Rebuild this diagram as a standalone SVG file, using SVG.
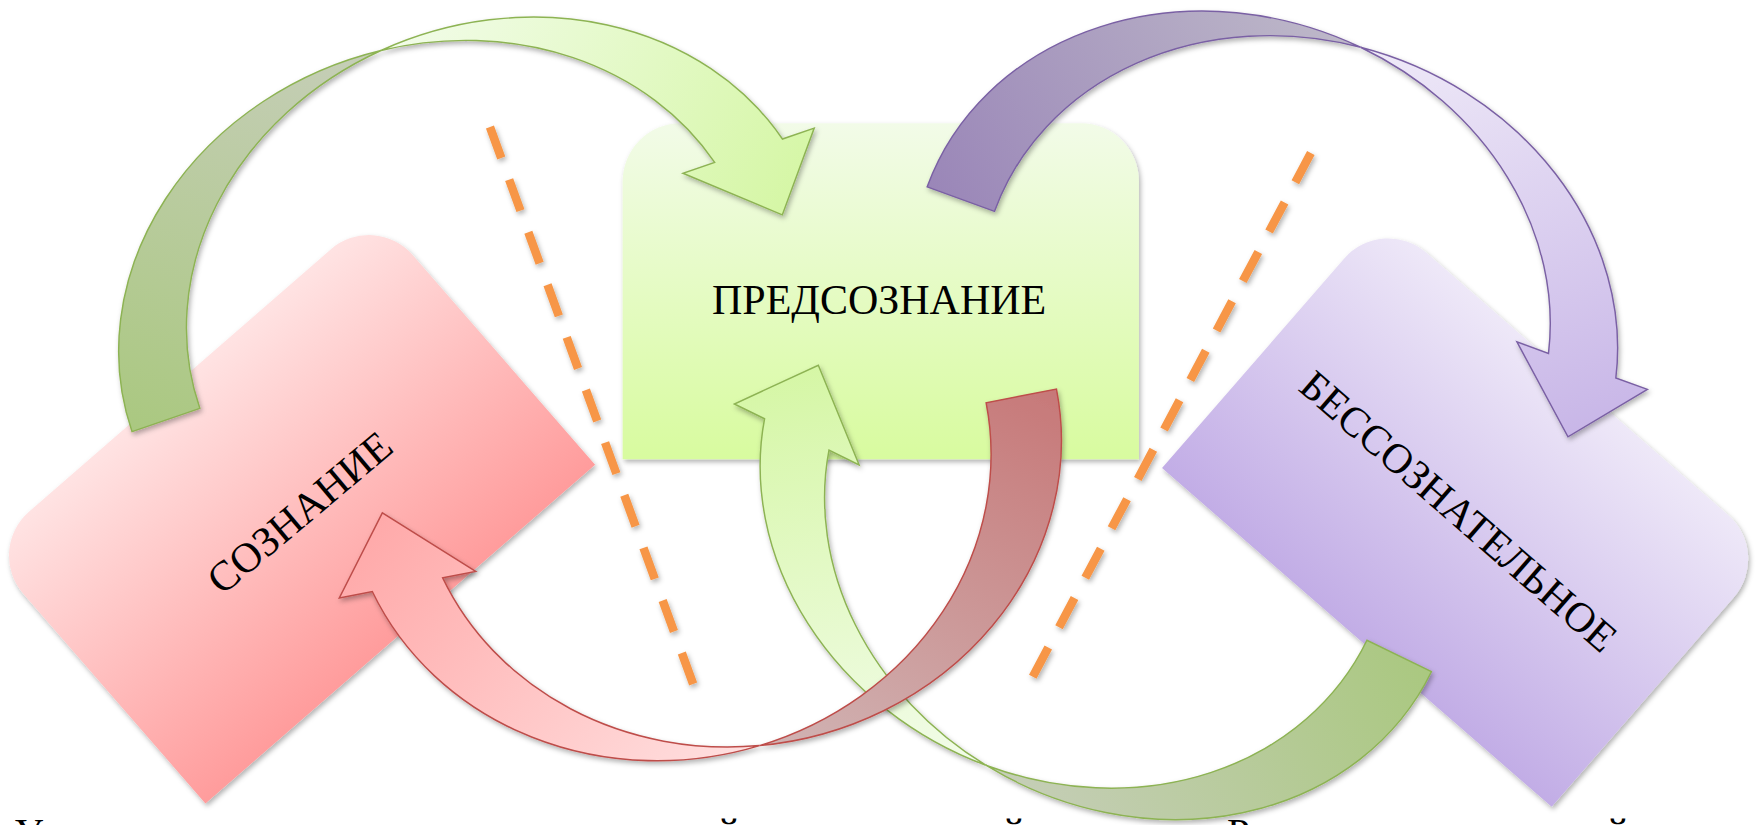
<svg xmlns="http://www.w3.org/2000/svg" width="1756" height="825" viewBox="0 0 1756 825">
<defs>
<style>
.lbl{font-family:"Liberation Serif","Times New Roman",serif;font-size:37.5px;fill:#000}
.cut{font-family:"Liberation Serif","Times New Roman",serif;font-size:41px;fill:#000}
.edge{fill:none;stroke:#f79646;stroke-width:7.6;stroke-dasharray:29.5 20.5}
.sg{stroke:#8db353;stroke-width:1.3}
.sp{stroke:#7a60a4;stroke-width:1.3}
.sr{stroke:#be4d4a;stroke-width:1.3}
</style>
<filter id="sh" x="-10%" y="-10%" width="125%" height="125%">
<feDropShadow dx="1.5" dy="2.5" stdDeviation="2.2" flood-color="#000" flood-opacity="0.3"/>
</filter>
<linearGradient id="nC" x1="0" y1="0" x2="0" y2="1"><stop offset="0" stop-color="#f2fbe8"/><stop offset="1" stop-color="#d8fb9f"/></linearGradient>
<linearGradient id="nR" x1="0" y1="0" x2="0" y2="1"><stop offset="0" stop-color="#ffe3e3"/><stop offset="1" stop-color="#ff9c9c"/></linearGradient>
<linearGradient id="nP" x1="0" y1="0" x2="0" y2="1"><stop offset="0" stop-color="#eee8f8"/><stop offset="1" stop-color="#c2ade6"/></linearGradient>
<linearGradient id="gD" x1="0" y1="1" x2="1" y2="0"><stop offset="0" stop-color="#aac880"/><stop offset="1" stop-color="#c6ceb9"/></linearGradient>
<linearGradient id="gL" x1="0" y1="0" x2="1" y2="1"><stop offset="0" stop-color="#f2fce9"/><stop offset="1" stop-color="#d3f6a0"/></linearGradient>
<linearGradient id="pD" x1="0" y1="1" x2="1" y2="0"><stop offset="0" stop-color="#9a86b8"/><stop offset="1" stop-color="#beb9c9"/></linearGradient>
<linearGradient id="pL" x1="0" y1="0" x2="1" y2="1"><stop offset="0" stop-color="#efeaf8"/><stop offset="1" stop-color="#c5b2e6"/></linearGradient>
<linearGradient id="rD" x1="0" y1="1" x2="1" y2="0"><stop offset="0" stop-color="#c77878"/><stop offset="1" stop-color="#d0b4b4"/></linearGradient>
<linearGradient id="rL" x1="0" y1="0" x2="1" y2="1"><stop offset="0" stop-color="#ffe0e0"/><stop offset="1" stop-color="#ffa5a5"/></linearGradient>
<path id="dk" d="M-289,0 A289,251 0 0 1 32,-249.46 A289,251 0 0 0 -225,0 Z"/>
<path id="lt" d="M32,-249.46 A289,251 0 0 1 345.18,-58 L375.2,-58 L323,6 L251.2,-58 L281.18,-58 A289,251 0 0 0 32,-249.46 Z"/>
<path id="lt2" d="M32,-249.46 A289,251 0 0 1 347.2,-50 L377.2,-50 L325,14 L253.2,-50 L283.2,-50 A289,251 0 0 0 32,-249.46 Z"/>
<path id="box" d="M-230.5,150 V-98 A52,52 0 0 1 -178.5,-150 H178.5 A52,52 0 0 1 230.5,-98 V150 Z"/>
</defs>
<rect width="1756" height="825" fill="#fff"/>
<g transform="scale(1.1199)">
<g id="node-soznanie" filter="url(#sh)">
<use href="#box" transform="translate(259 453) rotate(-41)" fill="url(#nR)"/>
</g>
<text class="lbl" text-anchor="middle" transform="translate(268 458) rotate(-40)" y="12">СОЗНАНИЕ</text>
<g id="node-predsoznanie" filter="url(#sh)">
<use href="#box" transform="translate(786.5 260)" fill="url(#nC)"/>
</g>
<text class="lbl" text-anchor="middle" x="785" y="280">ПРЕДСОЗНАНИЕ</text>
<g id="node-bessoznatelnoe" filter="url(#sh)">
<use href="#box" transform="translate(1310 456) rotate(41)" fill="url(#nP)"/>
</g>
<text class="lbl" text-anchor="middle" transform="translate(1302 457) rotate(41)" y="12">БЕССОЗНАТЕЛЬНОЕ</text>
<g id="connectors">
<g id="dividers" filter="url(#sh)">
<path class="edge" d="M437.5,113.4 L619,611"/>
<path class="edge" d="M1170.5,136.6 L922.2,604.3"/>
</g>
<g id="arrow-soz-pred" filter="url(#sh)">
<g transform="rotate(-19 420 200) translate(363 277)">
<use href="#dk" class="sg" fill="url(#gD)"/>
<use href="#lt" class="sg" fill="url(#gL)"/>
</g>
</g>
<g id="arrow-pred-bess" filter="url(#sh)">
<g transform="rotate(20 1150 200) translate(1125 279)">
<use href="#dk" class="sp" fill="url(#pD)"/>
<use href="#lt2" class="sp" fill="url(#pL)"/>
</g>
</g>
<g id="arrow-bess-pred" filter="url(#sh)">
<g transform="rotate(26 980 500) translate(1002.7 459) rotate(180)">
<use href="#dk" class="sg" fill="url(#gD)"/>
<use href="#lt" class="sg" fill="url(#gL)"/>
</g>
</g>
<g id="arrow-pred-soz" filter="url(#sh)">
<g transform="rotate(-11 620 450) translate(668 411) rotate(180) scale(1 1.05)">
<use href="#dk" class="sr" fill="url(#rD)"/>
<use href="#lt" class="sr" fill="url(#rL)"/>
</g>
</g>
</g>
</g>
<g id="cut-text">
<text class="cut" x="14" y="846">У</text>
<text class="cut" x="718" y="846">й</text>
<text class="cut" x="1003" y="846">й</text>
<text class="cut" x="1227" y="846">Р</text>
<text class="cut" x="1607" y="846">й</text>
</g>
</svg>
